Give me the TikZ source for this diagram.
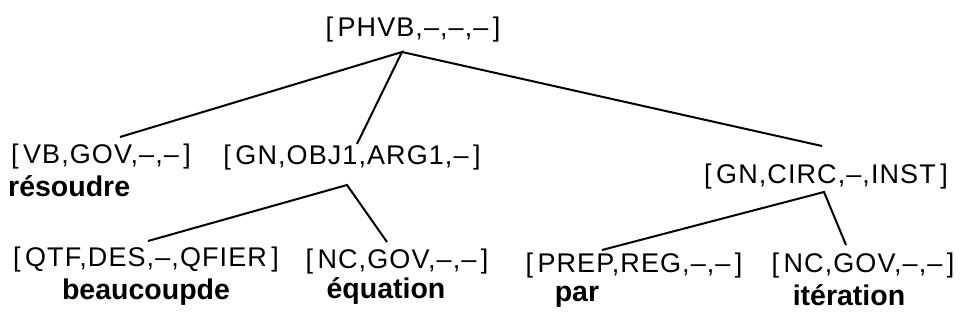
\documentclass[tikz,border=0pt]{standalone}
\usepackage{fontspec}
\setmainfont{Liberation Sans}
\newfontfamily\featfont[LetterSpace=4]{Liberation Sans}
\begin{document}
\begin{tikzpicture}[x=1pt,y=-1pt,
  feat/.style={inner sep=0pt,font=\featfont\fontsize{27}{30}\selectfont},
  word/.style={inner sep=0pt,font=\fontsize{28.5}{31}\selectfont\bfseries},
  edge/.style={line width=2pt}]
\useasboundingbox[fill=white] (0,0) rectangle (968,324);
% nodes
\node[feat] (top) at (413,30) {[\,PHVB,–,–,–\,]};
\node[feat] (vb) at (101,157) {[\,VB,GOV,–,–\,]};
\node[word,anchor=west] (resoudre) at (8,186) {résoudre};
\node[feat] (obj) at (352,158) {[\,GN,OBJ1,ARG1,–\,]};
\node[feat] (circ) at (826,177) {[\,GN,CIRC,–,INST\,]};
\node[feat] (qtf) at (146,260) {[\,QTF,DES,–,QFIER\,]};
\node[word] (beau) at (146,292) {beaucoupde};
\node[feat] (nc1) at (397,262) {[\,NC,GOV,–,–\,]};
\node[word] (equ) at (386,291) {équation};
\node[feat] (prep) at (634,266) {[\,PREP,REG,–,–\,]};
\node[word] (par) at (577,297) {par};
\node[feat] (nc2) at (863,266) {[\,NC,GOV,–,–\,]};
\node[word] (iter) at (849,295) {itération};
% attachment points
\coordinate (a0) at (402,52);
\coordinate (vbT) at (120,137);
\coordinate (objT) at (357,144);
\coordinate (circT) at (822,146);
\coordinate (a1) at (347,185);
\coordinate (qtfT) at (148,241);
\coordinate (nc1T) at (387,242);
\coordinate (a2) at (824,192);
\coordinate (prepT) at (602,250);
\coordinate (nc2T) at (846,245);
% edges
\draw[edge] (vbT) -- (a0) -- (objT);
\draw[edge] (a0) -- (circT);
\draw[edge] (qtfT) -- (a1) -- (nc1T);
\draw[edge] (prepT) -- (a2) -- (nc2T);
\end{tikzpicture}
\end{document}
